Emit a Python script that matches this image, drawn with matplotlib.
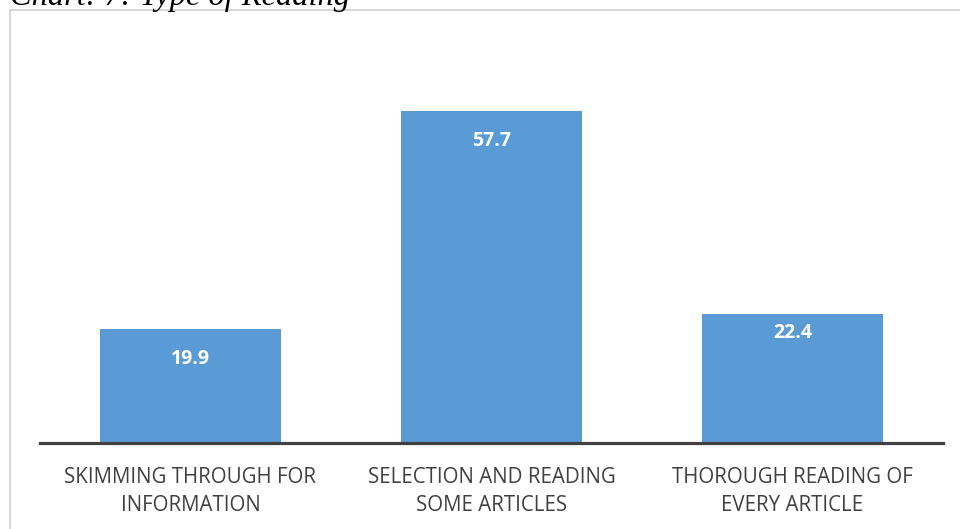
import matplotlib.pyplot as plt
from matplotlib.lines import Line2D

categories = ['SKIMMING THROUGH FOR\nINFORMATION',
              'SELECTION AND READING\nSOME ARTICLES',
              'THOROUGH READING OF\nEVERY ARTICLE']
values = [19.9, 57.7, 22.4]

# distance of each value label below its bar top, in points
label_drop = [21.6, 21.6, 13.3]

W, H = 960, 529
fig = plt.figure(figsize=(W / 100, H / 100), dpi=100)
ax = fig.add_axes([40 / W, (H - 443) / H, 903 / W, (443 - 42.6) / H])

x = range(len(values))
bars = ax.bar(x, values, width=0.6, color='#5B9BD5')
ax.set_xlim(-0.5, 2.5)
ax.set_ylim(0, 69.6)

for b, v, d in zip(bars, values, label_drop):
    ax.annotate(f'{v}', (b.get_x() + b.get_width() / 2, v),
                xytext=(0, -d), textcoords='offset points',
                ha='center', va='center', color='white',
                fontsize=14, fontweight='bold', family='Open Sans')

for s in ['top', 'right', 'left']:
    ax.spines[s].set_visible(False)
ax.spines['bottom'].set_color('#404040')
ax.spines['bottom'].set_linewidth(2.3)
ax.set_yticks([])
ax.set_xticks(list(x))
ax.set_xticklabels(categories, fontsize=14.8, color='#404040', family='Open Sans',
                   linespacing=1.45)
ax.tick_params(axis='x', length=0, pad=17)

# chart frame (light gray), partly cropped
fig.add_artist(Line2D([10 / W, 10 / W], [0, 1 - 10 / H], color='#d0d0d0', lw=1.2))
fig.add_artist(Line2D([10 / W, 1], [1 - 10 / H, 1 - 10 / H], color='#d0d0d0', lw=1.2))

# caption, cut off by the top edge
fig.text(10 / W, 1 - 5 / H, 'Chart: 7: Type of Reading', family='Liberation Serif',
         style='italic', fontsize=23.3, color='black', ha='left', va='baseline')

fig.savefig('out.png', dpi=100)
